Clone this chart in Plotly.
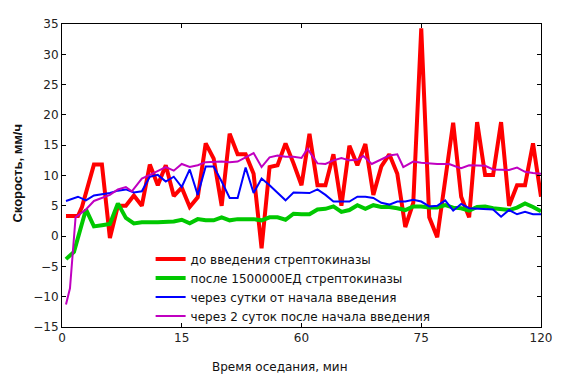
import plotly.graph_objects as go

# ---- data ----
red_x = [1, 4, 5, 8, 10, 12, 14, 16, 18, 20, 22, 24, 26, 28, 30, 32, 34, 36, 38, 40,
         42, 44, 46, 48, 50, 52, 54, 56, 58, 60, 62, 64, 66, 68, 70, 72, 74, 76, 78, 80,
         82, 84, 86, 88, 90, 92, 94, 98, 100, 102, 104, 106, 108, 110, 112, 114, 116, 118, 120]
red_y = [3.3, 3.3, 4.8, 11.8, 11.8, -0.3, 5.0, 5.0, 6.7, 5.0, 11.8, 8.4, 11.7, 6.6, 8.0, 4.8, 6.4, 15.3, 12.8, 5.0,
         16.9, 13.5, 13.5, 10.3, -2.0, 11.4, 11.7, 15.3, 12.0, 8.4, 16.9, 8.4, 8.4, 13.5, 5.0, 14.9, 11.7, 15.2, 6.8, 11.5,
         13.5, 10.3, 1.5, 5.5, 34.3, 3.1, -0.2, 18.7, 6.5, 3.1, 18.8, 10.1, 10.1, 18.8, 5.0, 8.4, 8.4, 15.3, 6.5]

green_x = [1, 3, 6, 8, 10, 12, 14, 16, 18, 20, 24, 28, 30, 32, 34, 36, 38, 40, 42, 44,
           48, 50, 52, 54, 56, 58, 60, 62, 64, 66, 68, 70, 72, 74, 76, 78, 80, 82, 84, 86,
           88, 90, 92, 94, 96, 98, 100, 102, 104, 106, 108, 110, 112, 114, 116, 118, 120]
green_y = [-3.8, -2.6, 4.4, 1.6, 1.8, 2.0, 5.4, 3.0, 2.1, 2.3, 2.3, 2.4, 2.7, 2.1, 2.8, 2.6, 2.6, 3.1, 2.6, 2.8,
           2.8, 2.6, 3.1, 3.1, 2.7, 3.7, 3.6, 3.6, 4.4, 4.5, 4.9, 4.0, 4.3, 5.1, 4.5, 5.1, 4.8, 4.8, 4.6, 4.3,
           4.9, 4.9, 4.7, 4.7, 5.1, 4.7, 4.6, 4.2, 4.8, 4.9, 4.6, 4.4, 4.3, 4.7, 5.4, 4.8, 4.1]

blue_x = [1, 4, 6, 8, 12, 14, 16, 18, 20, 22, 24, 26, 28, 30, 32, 34, 36, 38, 40, 42,
          44, 46, 48, 50, 52, 54, 56, 58, 60, 62, 64, 66, 68, 70, 72, 74, 76, 78, 80, 82,
          84, 86, 88, 90, 92, 94, 96, 98, 100, 102, 104, 106, 108, 110, 112, 114, 116, 118, 120]
blue_y = [5.8, 6.5, 5.9, 6.7, 7.1, 7.5, 7.7, 7.2, 7.4, 9.8, 10.1, 9.0, 9.8, 8.1, 11.0, 6.8, 11.5, 11.5, 9.0, 6.3,
          6.3, 11.3, 7.1, 9.5, 8.4, 7.1, 5.9, 7.2, 7.2, 7.1, 7.7, 6.8, 5.7, 5.7, 5.7, 6.5, 6.5, 6.3, 5.5, 5.2,
          5.7, 5.7, 6.0, 5.7, 4.9, 5.0, 5.9, 4.2, 5.3, 4.6, 4.5, 4.4, 4.4, 3.2, 4.3, 3.6, 4.0, 3.6, 3.6]

magenta_x = [1, 2, 3.4, 6, 8, 10, 12, 14, 16, 17.5, 20, 22, 24, 26, 28, 30, 32, 34, 36, 40,
             42, 44, 46, 48, 50, 52, 54, 56, 58, 60, 61.5, 64, 66, 68, 70, 72, 74, 75.5, 77.6, 80,
             82, 84, 85.5, 88, 90, 94, 97, 99, 100, 102, 104, 106, 108, 110, 112, 114, 116, 118, 120]
magenta_y = [-11.3, -8.6, 3.1, 4.4, 5.8, 6.3, 6.8, 7.7, 8.1, 7.4, 9.5, 10.1, 10.8, 11.4, 10.8, 11.9, 11.4, 11.7, 12.2, 12.3,
             12.2, 12.3, 13.0, 13.7, 11.4, 13.0, 13.3, 13.1, 13.1, 12.9, 14.4, 12.0, 11.9, 12.5, 12.9, 12.5, 12.6, 13.2, 11.9, 12.7,
             13.3, 13.5, 11.4, 12.3, 12.1, 11.9, 11.9, 11.4, 11.2, 11.7, 11.6, 11.6, 11.0, 11.0, 10.9, 11.3, 10.6, 10.4, 10.3]

names = ["до введения стрептокиназы",
         "после 1500000ЕД стрептокиназы",
         "через сутки от начала введения",
         "через 2 суток после начала введения"]

x_tickvals = [0, 30, 60, 90, 120]
x_ticktext = ["0", "15", "60", "75", "120"]

FONT = "DejaVu Sans"

fig = go.Figure()
series = [(red_x, red_y, "#ff0000", 4), (green_x, green_y, "#00c800", 4),
          (blue_x, blue_y, "#0000ff", 2), (magenta_x, magenta_y, "#c000c0", 2)]
for (xs, ys, col, w), nm in zip(series, names):
    fig.add_trace(go.Scatter(x=xs, y=ys, mode="lines", name=nm,
                             line=dict(color=col, width=w)))

axis_common = dict(showline=True, linecolor="black", linewidth=1, mirror="ticks",
                   ticks="inside", ticklen=4, tickcolor="black", showgrid=False,
                   zeroline=False, tickfont=dict(family=FONT, size=12, color="#222"))

# the page body adds an 8px offset, so the figure is sized/margined accordingly
W, H = 556, 375
ML, MR, MT, MB = 54, 23, 9, 56
pw, ph = W - ML - MR, H - MT - MB

fig.update_layout(
    width=W, height=H,
    margin=dict(l=ML, r=MR, t=MT, b=MB),
    paper_bgcolor="white", plot_bgcolor="white",
    font=dict(family=FONT, size=12, color="black"),
    showlegend=True,
    legend=dict(x=0.185, y=0.272, xanchor="left", yanchor="top",
                bgcolor="rgba(0,0,0,0)", font=dict(family=FONT, size=12, color="#111")),
    xaxis=dict(range=[0, 120], tickvals=x_tickvals, ticktext=x_ticktext, **axis_common),
    yaxis=dict(range=[-15, 35], tickvals=list(range(-15, 36, 5)), **axis_common),
    annotations=[
        dict(text="Время оседания, мин", x=(271 - ML) / pw, y=(H - MB - 360) / ph,
             xref="paper", yref="paper", xanchor="center", yanchor="middle",
             showarrow=False, font=dict(family=FONT, size=12, color="#111")),
        dict(text="<b>Скорость, мм/ч</b>", x=(10 - ML) / pw, y=(H - MB - 162) / ph,
             xref="paper", yref="paper", xanchor="center", yanchor="middle",
             showarrow=False, textangle=-90,
             font=dict(family="Liberation Sans", size=13, color="#111")),
    ],
)

fig.write_html("out.html")
